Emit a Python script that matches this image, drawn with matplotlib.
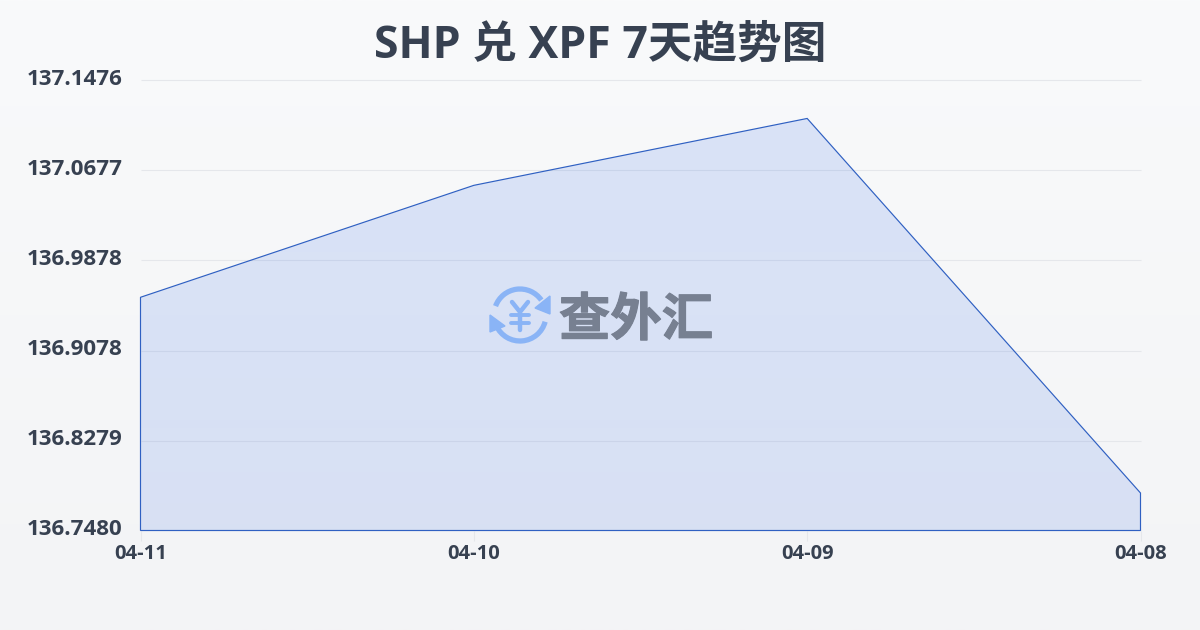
import numpy as np
import matplotlib
matplotlib.use("Agg")
import matplotlib.pyplot as plt
import matplotlib.patheffects as pe
from matplotlib.colors import LinearSegmentedColormap
from matplotlib.patches import Arc, Polygon

plt.rcParams['font.family'] = ['Open Sans', 'Noto Sans CJK SC', 'DejaVu Sans']

dates = ['04-11', '04-10', '04-09', '04-08']
rates = [136.9551, 137.0545, 137.1139, 136.7813]
y_ticks = [136.7480, 136.8279, 136.9078, 136.9878, 137.0677, 137.1476]
y_labels = ['136.7480', '136.8279', '136.9078', '136.9878', '137.0677', '137.1476']
title = 'SHP 兑 XPF 7天趋势图'
brand = '查外汇'

W, H = 1200, 630
text_color = '#374151'
line_color = '#2f60c2'

fig = plt.figure(figsize=(W / 100, H / 100), dpi=100)

# page background, light vertical gradient
bg = fig.add_axes([0, 0, 1, 1], zorder=0)
bg.axis('off')
bg.imshow(np.linspace(0, 1, 256).reshape(-1, 1), aspect='auto', extent=[0, 1, 0, 1],
          cmap=LinearSegmentedColormap.from_list('bg', ['#f9fafb', '#f3f4f6']))

left, right, top, bottom = 140.5, 1140.5, 80.5, 530.5
ax = fig.add_axes([left / W, 1 - bottom / H, (right - left) / W, (bottom - top) / H], zorder=1)
ax.patch.set_alpha(0)
x = np.arange(len(dates))
ax.set_xlim(0, len(dates) - 1)
ax.set_ylim(y_ticks[0], y_ticks[-1])

ax.set_yticks(y_ticks)
ax.set_yticklabels([])
ax.set_xticks(x)
ax.set_xticklabels(dates, fontsize=14.5, fontweight='bold', color=text_color)
ax.tick_params(axis='x', length=7, width=0.8, color='#e5e7eb', pad=2.6)
ax.tick_params(axis='y', length=0)
for lbl, v in zip(y_labels, y_ticks):
    ax.annotate(lbl, (0, v), xycoords=('axes fraction', 'data'), xytext=(-12.8, 1),
                textcoords='offset points', ha='right', va='center', fontsize=16.1,
                fontweight='bold', color=text_color)
ax.grid(axis='y', color='#e5e7eb', lw=0.8, clip_on=False, solid_capstyle='butt')
ax.set_axisbelow(True)
for s in ax.spines.values():
    s.set_visible(False)

# area with faint gradient, clipped to the data outline
outline = list(zip(x, rates)) + [(x[-1], y_ticks[0]), (x[0], y_ticks[0])]
poly = Polygon(outline, closed=True, facecolor='none', edgecolor=line_color, lw=0.85, zorder=3, clip_on=False)
ax.add_patch(poly)
grad = ax.imshow(np.linspace(0, 1, 256).reshape(-1, 1), aspect='auto', zorder=2,
                 extent=[x[0], x[-1], y_ticks[0], y_ticks[-1]],
                 cmap=LinearSegmentedColormap.from_list(
                     'fill', [(0.145, 0.39, 0.92, 0.145), (0.145, 0.37, 0.88, 0.135)]))
grad.set_clip_path(poly)

fig.text(600 / W, 1 - 46 / H, title, ha='center', va='center', fontsize=32.1,
         fontweight='bold', color=text_color)

# watermark logo, in pixel coordinates
ov = fig.add_axes([0, 0, 1, 1], zorder=5)
ov.axis('off')
ov.patch.set_alpha(0)
ov.set_xlim(0, W)
ov.set_ylim(H, 0)
blue = '#8ab4f6'
cx, cy, r = 520, 315, 26
ov.add_patch(Arc((cx, cy), 2 * r, 2 * r, theta1=15, theta2=155, color=blue, lw=3.8))
ov.add_patch(Arc((cx, cy), 2 * r, 2 * r, theta1=200, theta2=325, color=blue, lw=3.8))
ov.add_patch(Polygon([(550, 296), (550, 314), (535, 308)], color=blue))
ov.add_patch(Polygon([(490, 315), (490, 332), (505, 326)], color=blue))
ov.plot([cx, cx], [314, 330], color=blue, lw=3.2, solid_capstyle='round')
ov.plot([cx - 8, cx, cx + 8], [302, 312, 302], color=blue, lw=3.2, solid_capstyle='round')
ov.plot([cx - 9, cx + 9], [315, 315], color=blue, lw=2.8, solid_capstyle='round')
ov.plot([cx - 9, cx + 9], [323, 323], color=blue, lw=2.8, solid_capstyle='round')
ov.text(636, 320, brand, ha='center', va='center', fontsize=37, fontweight='bold',
        color='#778091', family=['Noto Sans CJK SC', 'DejaVu Sans'],
        path_effects=[pe.withStroke(linewidth=0.8, foreground='#778091')])

fig.savefig('out.png', dpi=100)
